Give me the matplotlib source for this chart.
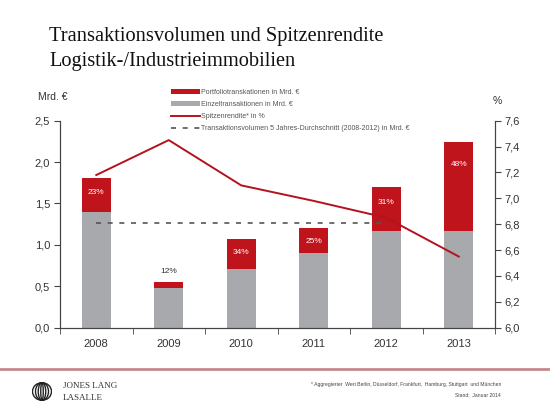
import matplotlib
matplotlib.use("Agg")
import matplotlib.pyplot as plt
from matplotlib.patches import Patch, Ellipse
from matplotlib.lines import Line2D
import numpy as np

years = ["2008", "2009", "2010", "2011", "2012", "2013"]
total = [1.81, 0.55, 1.07, 1.20, 1.70, 2.24]          # Mrd. EUR
portfolio_share = [23, 12, 34, 25, 31, 48]             # % Portfolio
yield_pct = [7.18, 7.45, 7.10, 6.98, 6.85, 6.55]       # Spitzenrendite
avg_5y = 1.27                                          # 2008-2012
avg_years = ["2008", "2009", "2010", "2011", "2012"]

RED = "#C0141C"
GRAY = "#A7A9AC"
LINE_RED = "#B2131E"
TXT = "#333333"

plt.rcParams["font.family"] = ["Liberation Sans", "DejaVu Sans"]

fig = plt.figure(figsize=(5.5, 4.11), dpi=100)
ax = fig.add_axes([60 / 550, 1 - 327.7 / 411, 435 / 550, 207 / 411])
ax2 = ax.twinx()

x = np.arange(len(years))
tot = np.array(total)
share = np.array(portfolio_share) / 100.0
red_part = tot * share
gray_part = tot - red_part

ax.bar(x, gray_part, width=0.4, color=GRAY, zorder=2)
ax.bar(x, red_part, bottom=gray_part, width=0.4, color=RED, zorder=2)

for i in range(len(years)):
    if years[i] == "2009":
        ax.text(x[i], tot[i] + 0.13, f"{portfolio_share[i]}%", ha="center", va="center",
                fontsize=6, color=TXT, zorder=5)
    else:
        ax.text(x[i], tot[i] - (0.11 + 0.15 * red_part[i]), f"{portfolio_share[i]}%",
                ha="center", va="center", fontsize=6, color="white", zorder=5)

ax.plot(np.arange(len(avg_years)), [avg_5y] * len(avg_years), color="#555555",
        linestyle=(0, (3, 4)), linewidth=1.2, zorder=4)

ax2.plot(x, yield_pct, color=LINE_RED, linewidth=1.4, zorder=3)

ax.set_xlim(-0.5, len(years) - 0.5)
ax.set_ylim(0, 2.5)
ax2.set_ylim(6.0, 7.6)
ax.set_yticks(np.arange(0, 2.51, 0.5))
ax.set_yticklabels([f"{v:.1f}".replace(".", ",") for v in np.arange(0, 2.51, 0.5)])
ax2.set_yticks(np.arange(6.0, 7.61, 0.2))
ax2.set_yticklabels([f"{v:.1f}".replace(".", ",") for v in np.arange(6.0, 7.61, 0.2)])

ax.set_xticks(x)
ax.set_xticklabels(years)
ax.set_xticks(np.arange(-0.5, len(years)), minor=True)
ax.tick_params(axis="x", which="major", length=0, pad=8, labelsize=8, labelcolor=TXT)
ax.tick_params(axis="x", which="minor", length=4, direction="out", color="#444444")
ax.tick_params(axis="y", length=4, direction="out", labelsize=8, labelcolor=TXT, color="#444444", pad=3)
ax2.tick_params(axis="y", length=4, direction="out", labelsize=8, labelcolor=TXT, color="#444444", pad=3)

for a in (ax, ax2):
    a.spines["top"].set_visible(False)
    for s in ("left", "right", "bottom"):
        a.spines[s].set_color("#444444")
        a.spines[s].set_linewidth(0.8)

# legend
handles = [Patch(facecolor=RED), Patch(facecolor=GRAY),
           Line2D([], [], color=LINE_RED, linewidth=1.4),
           Line2D([], [], color="#555555", linestyle=(0, (3, 4)), linewidth=1.2)]
labels = ["Portfoliotranskationen in Mrd. €", "Einzeltransaktionen in Mrd. €",
          "Spitzenrendite* in %",
          "Transaktionsvolumen 5 Jahres-Durchschnitt (2008-2012) in Mrd. €"]
fig.legend(handles, labels, loc="upper left", bbox_to_anchor=(168 / 550, 1 - 86 / 411),
           frameon=False, fontsize=5, labelcolor="#555555", handlelength=4.2,
           handleheight=0.7, handletextpad=0.2, labelspacing=0.75, borderaxespad=0)

fig.text(38 / 550, 1 - 97 / 411, "Mrd. €", fontsize=7.5, color=TXT, va="center")
fig.text(497 / 550, 1 - 101 / 411, "%", fontsize=7.5, color=TXT, va="center", ha="center")

# title
fig.text(49 / 550, 1 - 41 / 411, "Transaktionsvolumen und Spitzenrendite", fontsize=14.7,
         family="Liberation Serif", color="#111111", va="baseline")
fig.text(49 / 550, 1 - 66 / 411, "Logistik-/Industrieimmobilien", fontsize=14.7,
         family="Liberation Serif", color="#111111", va="baseline")

# footer
fig.add_artist(Line2D([0, 1], [1 - 369 / 411] * 2, color="#C48A8E", linewidth=2))
fig.text(501 / 550, 1 - 384 / 411,
         "* Aggregierter  Wert Berlin, Düsseldorf, Frankfurt,  Hamburg, Stuttgart  und München",
         fontsize=3.6, color="#444444", ha="right", va="center")
fig.text(501 / 550, 1 - 395 / 411, "Stand:  Januar 2014", fontsize=3.6, color="#444444",
         ha="right", va="center")

logo = fig.add_axes([32 / 550, 1 - 401 / 411, 20 / 550, 19 / 411])
logo.set_xlim(-1, 1)
logo.set_ylim(-1, 1)
logo.axis("off")
for w in [1.9, 1.3, 0.75, 0.25]:
    logo.add_patch(Ellipse((0, 0), w, 1.85, fill=False, edgecolor="#222222", linewidth=1.0))
fig.text(63 / 550, 1 - 386 / 411, "JONES LANG", fontsize=6.5, family="Liberation Serif",
         color="#333333", va="center")
fig.text(63 / 550, 1 - 397.5 / 411, "LASALLE", fontsize=6.5, family="Liberation Serif",
         color="#333333", va="center")

fig.savefig("out.png", dpi=100, facecolor="white")
